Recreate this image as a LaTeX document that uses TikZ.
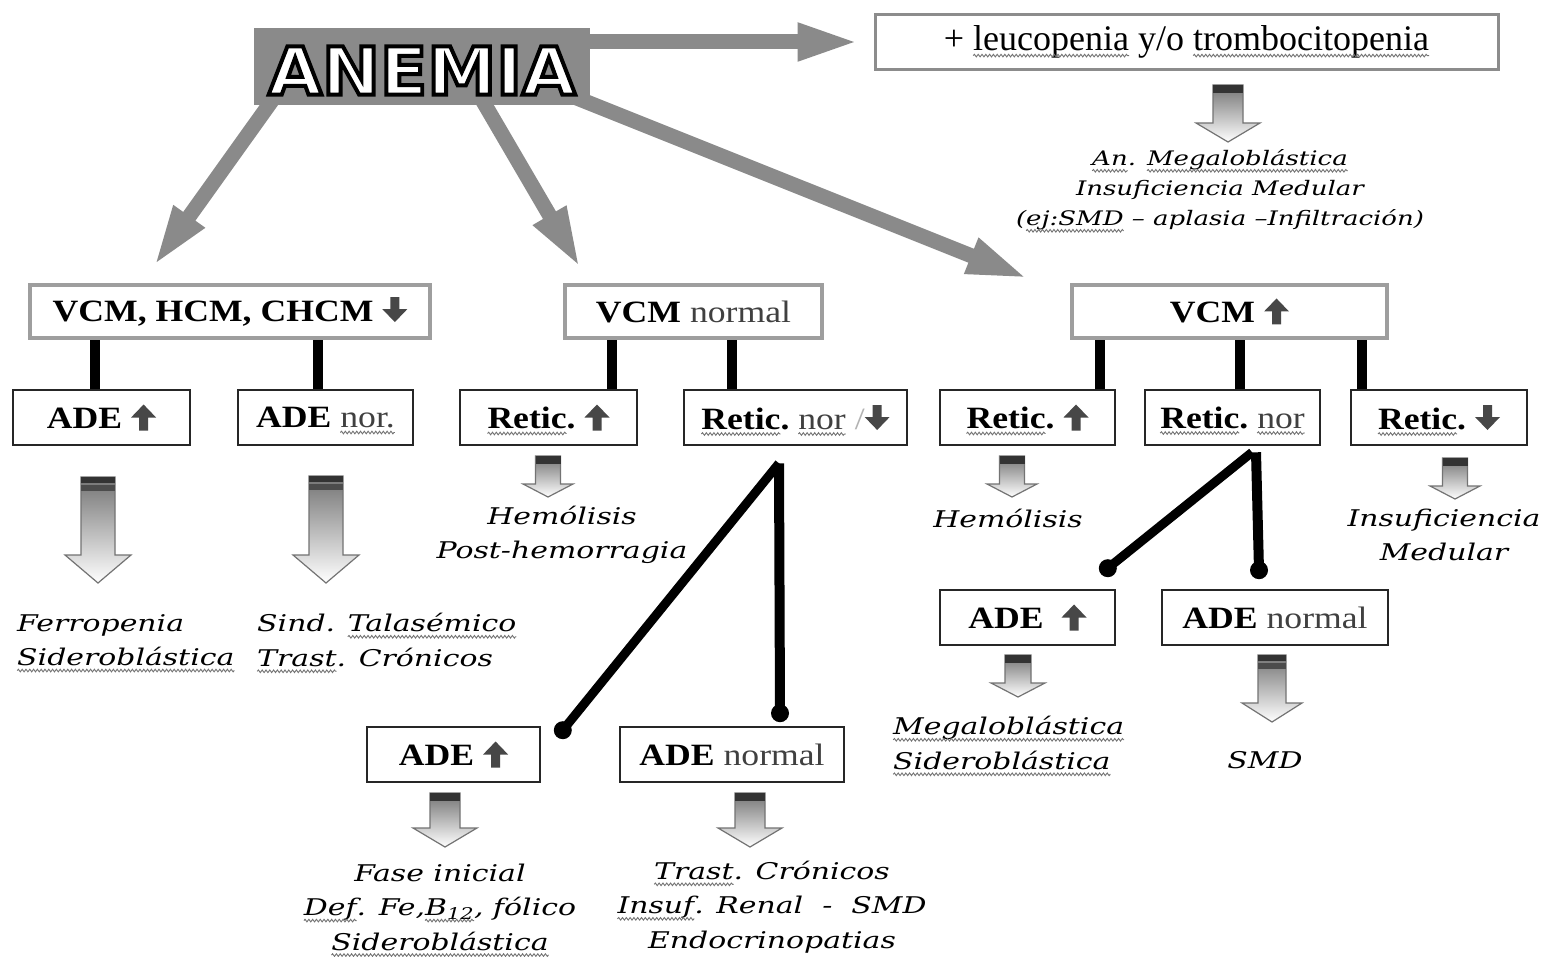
\documentclass[tikz,border=0pt]{standalone}
\usepackage{fontspec}
\setmainfont{Liberation Serif}
\newfontfamily\bxfont[FakeStretch=1.15]{Liberation Serif}
\newfontfamily\itfont[FakeStretch=1.3]{DejaVu Serif}
\newfontfamily\anfont[FakeBold=6,FakeStretch=1.05]{DejaVu Sans Bold}
\usetikzlibrary{arrows.meta,calc,decorations.pathmorphing}
\definecolor{anemgray}{gray}{0.54}
\definecolor{txtgray}{gray}{0.25}
\definecolor{glyphgray}{gray}{0.28}
\newcommand{\uparr}{\tikz[baseline=0pt,x=1pt,y=1pt]{\fill[glyphgray] (-4.5,-2) -- (-4.5,11) -- (-12.5,11) -- (0,24) -- (12.5,11) -- (4.5,11) -- (4.5,-2) -- cycle;}}
\newcommand{\dnarr}{\tikz[baseline=0pt,x=1pt,y=1pt]{\fill[glyphgray] (-4.5,24) -- (4.5,24) -- (4.5,12) -- (12.5,12) -- (0,-1) -- (-12.5,12) -- (-4.5,12) -- cycle;}}
\newsavebox\wvbox
\newcommand{\wavy}[1]{\sbox\wvbox{#1}\usebox\wvbox\tikz[overlay,x=1pt,y=1pt]{\draw[wavyline] (-\wd\wvbox,-5pt) -- (0pt,-5pt);}}
% block arrow: cx, ytop, yshaftbottom, ytip, shaft half width, head half width
\newcommand{\barr}[6]{%
  \path[blockarr] ({#1-#5},#2) -- ({#1+#5},#2) -- ({#1+#5},#3) -- ({#1+#6},#3) -- (#1,#4) -- ({#1-#6},#3) -- ({#1-#5},#3) -- cycle;
  \fill[black!80] ({#1-#5},#2) rectangle ({#1+#5},{#2+8});}
\newcommand{\barrb}[6]{%
  \path[blockarr] ({#1-#5},#2) -- ({#1+#5},#2) -- ({#1+#5},#3) -- ({#1+#6},#3) -- (#1,#4) -- ({#1-#6},#3) -- ({#1-#5},#3) -- cycle;
  \fill[black!80] ({#1-#5},#2) rectangle ({#1+#5},{#2+6});
  \fill[black!70] ({#1-#5},{#2+8}) rectangle ({#1+#5},{#2+14});}
\tikzset{
  wavyline/.style={draw=black!55, line width=0.9pt, decorate, decoration={snake, amplitude=1.3pt, segment length=3.8pt}},
  lvltwo/.style={draw=black!38, line width=3.5pt, fill=white, minimum height=53pt, inner sep=0pt, font=\bxfont\fontsize{31}{34}\selectfont},
  lvlthree/.style={draw=black!85, line width=1.6pt, fill=white, minimum height=55pt, inner sep=0pt, font=\bxfont\fontsize{31}{34}\selectfont},
  topbox/.style={draw=black!45, line width=3pt, fill=white, minimum height=55pt, inner sep=0pt, font=\fontsize{36}{40}\selectfont},
  label/.style={font=\itfont\itshape\fontsize{23}{34.5}\selectfont, inner sep=0pt},
  smalllabel/.style={font=\itfont\itshape\fontsize{20}{30}\selectfont, inner sep=0pt},
  link/.style={line width=10pt, black},
  dlink/.style={line width=9pt, black},
  bigarr/.style={draw=anemgray, fill=anemgray, line width=15pt, -{Triangle[width=34pt,length=62pt]}},
  blockarr/.style={draw=black!55, line width=1.2pt, top color=black!55, bottom color=white},
  anemtext/.style={font=\anfont\fontsize{66}{70}\selectfont, inner sep=0pt}
}
\begin{document}
\begin{tikzpicture}[x=1pt,y=-1pt]
\useasboundingbox[fill=white] (0,0) rectangle (1546,957);

% level 2 boxes
\node[lvltwo, minimum width=400pt] (n1) at (230,311.5) {{\bfseries VCM, HCM, CHCM}~\dnarr};
\node[lvltwo, minimum width=257pt] (n2) at (693.5,311.5) {{\bfseries VCM} {\color{txtgray}normal}};
\node[lvltwo, minimum width=315pt] (n3) at (1229.5,311.5) {{\bfseries VCM}~\uparr};

% top box
\node[topbox, minimum width=623pt] (lk) at (1186.5,42) {+ \wavy{leucopenia} y/o \wavy{trombocitopenia}};

% ANEMIA
\node[fill=anemgray, minimum width=335pt, minimum height=77pt, inner sep=0pt] (anemia) at (422,66.5) {};
\draw[bigarr] ([shift={(-5,-24.5)}]anemia.east) -- ([shift={(270,-24.5)}]anemia.east);
\draw[bigarr] ([shift={(18,-5)}]anemia.south west) -- ([shift={(125,-16.5)}]n1.north west);
\draw[bigarr] ([shift={(228,-5)}]anemia.south west) -- ([shift={(17.5,-14.5)}]n2.north west);
\draw[bigarr] ([shift={(-15,-8)}]anemia.south east) -- ([shift={(-41.5,-4.5)}]n3.north west);
\fill[anemgray] (anemia.south west) rectangle (anemia.north east);
\node[anemtext] (anemiatxt) at ([shift={(0,4)}]anemia.center) {\special{pdf:bcolor [1] [0]}ANEMIA\special{pdf:ecolor}};

% level 3 boxes
\node[lvlthree, minimum width=177pt] (a1) at (101.5,417.5) {{\bfseries ADE}~\uparr};
\node[lvlthree, minimum width=175pt] (a2) at (325.5,417.5) {{\bfseries ADE} {\color{txtgray}\wavy{nor.}}};
\node[lvlthree, minimum width=177pt] (r1) at (548.5,417.5) {{\bfseries \wavy{Retic}.}~\uparr};
\node[lvlthree, minimum width=223pt] (r2) at (795.5,417.5) {{\bfseries \wavy{Retic}.}~{\color{txtgray}\wavy{nor}} {\color{black!30}/}\dnarr};
\node[lvlthree, minimum width=175pt] (r3) at (1027.5,417.5) {{\bfseries \wavy{Retic}.}~\uparr};
\node[lvlthree, minimum width=175pt] (r4) at (1232.5,417.5) {{\bfseries \wavy{Retic}.}~{\color{txtgray}\wavy{nor}}};
\node[lvlthree, minimum width=176pt] (r5) at (1439,417.5) {{\bfseries \wavy{Retic}.}~\dnarr};

% connectors level 2 -> 3
\draw[link] ([xshift=-6.5]a1.north) -- ([xshift=-6.5]a1.north |- n1.south);
\draw[link] ([xshift=-7.5]a2.north) -- ([xshift=-7.5]a2.north |- n1.south);
\draw[link] ([xshift=63.5]r1.north) -- ([xshift=63.5]r1.north |- n2.south);
\draw[link] ([xshift=-63.5]r2.north) -- ([xshift=-63.5]r2.north |- n2.south);
\draw[link] ([xshift=72.5]r3.north) -- ([xshift=72.5]r3.north |- n3.south);
\draw[link] ([xshift=7.5]r4.north) -- ([xshift=7.5]r4.north |- n3.south);
\draw[link] ([xshift=-77]r5.north) -- ([xshift=-77]r5.north |- n3.south);

% bottom boxes
\node[lvlthree, minimum width=173pt] (b1) at (453.5,754.5) {{\bfseries ADE}~\uparr};
\node[lvlthree, minimum width=224pt] (b2) at (732,754.5) {{\bfseries ADE} {\color{txtgray}normal}};
\node[lvlthree, minimum width=175pt] (c1) at (1027.5,617.5) {{\bfseries ADE}~~\uparr};
\node[lvlthree, minimum width=226pt] (c2) at (1275,617.5) {{\bfseries ADE} {\color{txtgray}normal}};

% dotted connectors
\coordinate (j1) at ([shift={(-16.5,17.5)}]r2.south);
\coordinate (e1) at ([shift={(22,4)}]b1.north east);
\coordinate (e2) at ([shift={(48,-13)}]b2.north);
\draw[dlink] (j1) -- (e1);
\draw[link] (j1) -- (e2);
\fill (e1) circle (9);
\fill (e2) circle (9);
\coordinate (j2) at ([shift={(19.5,6.5)}]r4.south);
\coordinate (e3) at ([shift={(-8,-21)}]c1.north east);
\coordinate (e4) at ([shift={(-16,-19)}]c2.north);
\draw[dlink] (j2) -- (e3);
\draw[link] ([xshift=4]j2) -- (e4);
\fill (e3) circle (9);
\fill (e4) circle (9);

% block arrows
\barr{1228}{85}{123}{142}{15}{32}
\barrb{98}{477}{555}{583}{17}{33}
\barrb{326}{476}{555}{583}{17}{33}
\barr{548}{456}{484}{497}{12.5}{25}
\barr{1012}{456}{484}{497}{12.5}{25}
\barr{1455}{458}{486}{499}{12.5}{25}
\barr{1018}{655}{683}{697}{13}{27}
\barrb{1272}{655}{703}{722}{14}{30}
\barr{445}{793}{828}{847}{15}{32}
\barr{750}{793}{828}{847}{15}{32}

% labels
\node[smalllabel, align=center] (t0) at (1220,190) {\wavy{An}. \wavy{Megaloblástica}\\Insuficiencia Medular\\(\wavy{ej:SMD} – aplasia –Infiltración)};
\node[label, align=left, anchor=west] (t1) at (17,640) {Ferropenia\\\wavy{Sideroblástica}};
\node[label, align=left, anchor=west] (t2) at (257,640) {Sind. \wavy{Talasémico}\\\wavy{Trast}. Crónicos};
\node[label, align=center] (t3) at (562,535) {Hemólisis\\Post-hemorragia};
\node[label] (t4) at (1008,518) {Hemólisis};
\node[label, align=center] (t5) at (1444,535) {Insuficiencia\\Medular};
\node[label, align=left, anchor=west] (t6) at (893,743) {\wavy{Megaloblástica}\\\wavy{Sideroblástica}};
\node[label] (t7) at (1265,760) {SMD};
\node[label, align=center] (t8) at (440,907) {Fase inicial\\\wavy{Def}. Fe,\wavy{B\textsubscript{12}}, fólico\\\wavy{Sideroblástica}};
\node[label, align=center] (t9) at (772,907) {\wavy{Trast}. Crónicos\\\wavy{Insuf}. Renal~ -~ SMD\\Endocrinopatias};
\end{tikzpicture}
\end{document}
